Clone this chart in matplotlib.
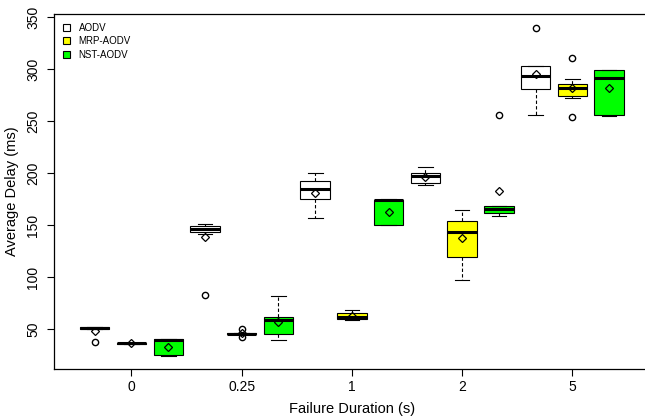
import matplotlib
matplotlib.use("Agg")
import matplotlib.pyplot as plt
from matplotlib.patches import Patch

plt.rcParams['font.family'] = ['Liberation Sans', 'DejaVu Sans']

# groups and protocols
durations = ["0", "0.25", "1", "2", "5"]
methods = ["AODV", "MRP-AODV", "NST-AODV"]
colors = ["white", "#ffff00", "#00ff00"]

# one entry per box, ordered duration by duration, AODV / MRP / NST
q1 = [50.5, 36.0, 25.0, 143.3, 45.5, 46.1, 175.4, 60.2, 150.4,
      191.0, 120.0, 162.3, 281.2, 274.6, 256.0]
med = [51.0, 36.5, 40.0, 146.2, 46.0, 59.0, 184.7, 62.2, 174.3,
       197.0, 143.3, 166.0, 293.7, 282.3, 291.1]
q3 = [52.0, 37.0, 40.5, 149.0, 46.5, 62.2, 192.5, 66.0, 174.8,
      200.6, 154.2, 168.5, 303.4, 285.8, 299.5]
whislo = [50.5, 36.0, 24.5, 142.0, 45.5, 39.7, 156.8, 58.7, 150.0,
          188.3, 97.3, 159.4, 255.6, 272.0, 255.5]
whishi = [52.0, 37.0, 40.5, 151.4, 46.5, 82.5, 200.5, 69.0, 175.0,
          206.4, 165.2, 168.8, 303.5, 290.3, 299.5]
means = [48.4, 36.5, 33.0, 138.8, 46.3, 56.8, 181.0, 63.0, 163.0,
         196.7, 138.1, 182.5, 295.0, 281.7, 281.7]
outliers = [[37.5], [], [], [83.0], [50.3, 42.3], [], [], [], [],
            [], [], [256.0], [340.0], [310.7, 254.3], []]

stats = []
for i in range(len(med)):
    stats.append(dict(q1=q1[i], med=med[i], q3=q3[i], whislo=whislo[i],
                      whishi=whishi[i], mean=means[i], fliers=outliers[i]))

positions = list(range(1, len(med) + 1))

fig = plt.figure(figsize=(6.45, 4.19), dpi=100)
# right edge of the frame sits just outside the picture, as in the original
ax = fig.add_axes([54.3 / 645, 50 / 419, (649.5 - 54.3) / 645, 355 / 419])

bp = ax.bxp(stats, positions=positions, widths=0.8, patch_artist=True,
            showmeans=True, capwidths=0.4,
            boxprops=dict(edgecolor='black', linewidth=0.8),
            medianprops=dict(color='black', linewidth=2.2),
            whiskerprops=dict(color='black', linewidth=0.8, linestyle=(0, (3, 2))),
            capprops=dict(color='black', linewidth=0.8),
            flierprops=dict(marker='o', markerfacecolor='none',
                            markeredgecolor='black', markersize=4.5,
                            markeredgewidth=1.0),
            meanprops=dict(marker='D', markerfacecolor='none',
                           markeredgecolor='black', markersize=4,
                           markeredgewidth=0.9))

for i, box in enumerate(bp['boxes']):
    box.set_facecolor(colors[i % 3])

ax.set_xlim(-0.1, 16.1)
ax.set_ylim(12, 353)

ax.set_xticks([2 + 3 * k for k in range(len(durations))])
ax.set_xticklabels(durations)
ax.set_yticks([50, 100, 150, 200, 250, 300, 350])
ax.tick_params(axis='both', direction='out', length=5, width=0.8,
               labelsize=10)
ax.tick_params(axis='x', pad=3)
ax.tick_params(axis='y', pad=5)
for lab in ax.get_yticklabels():
    lab.set_rotation(90)
    lab.set_va('center')

for sp in ax.spines.values():
    sp.set_linewidth(0.9)
ax.spines['right'].set_visible(False)

ax.set_xlabel("Failure Duration (s)", fontsize=10.5, labelpad=6)
ax.set_ylabel("Average Delay (ms)", fontsize=10.5, labelpad=5)

handles = [Patch(facecolor=colors[i], edgecolor='black', linewidth=0.8,
                 label=methods[i]) for i in range(3)]
ax.legend(handles=handles, loc='upper left', frameon=False, fontsize=7,
          handlelength=0.7, handleheight=0.7, handletextpad=0.9,
          labelspacing=0.35, borderaxespad=0.5)

plt.savefig("out.png", dpi=100)
plt.close()
